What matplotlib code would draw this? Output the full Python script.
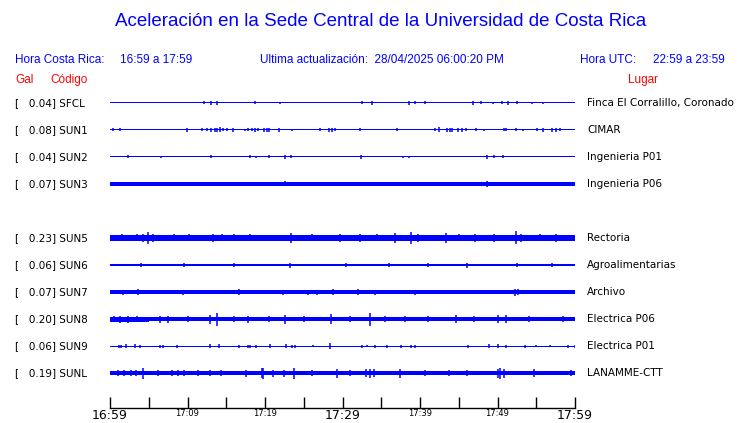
import matplotlib
matplotlib.use("Agg")
import matplotlib.pyplot as plt
import matplotlib.transforms as mtransforms
import numpy as np

# estaciones (SUN4 sin datos, deja el hueco)
codes = ["SFCL", "SUN1", "SUN2", "SUN3", "SUN4", "SUN5", "SUN6", "SUN7", "SUN8", "SUN9", "SUNL"]
gal = [0.04, 0.08, 0.04, 0.07, None, 0.23, 0.06, 0.07, 0.20, 0.06, 0.19]
places = ["Finca El Corralillo, Coronado", "CIMAR", "Ingenieria P01", "Ingenieria P06", None,
          "Rectoria", "Agroalimentarias", "Archivo", "Electrica P06", "Electrica P01", "LANAMME-CTT"]

# ancho medio de la traza (px) en bloques de 5 minutos
base = {
    "SFCL": [0.5, 0.5, 0.5, 0.5, 0.5, 0.5, 0.5, 0.5, 0.5, 0.5, 0.5, 0.5],
    "SUN1": [0.5, 0.5, 0.5, 0.5, 0.5, 0.5, 0.5, 0.5, 0.5, 0.5, 0.5, 0.5],
    "SUN2": [0.5, 0.5, 0.5, 0.5, 0.5, 0.5, 0.5, 0.5, 0.5, 0.5, 0.5, 0.5],
    "SUN3": [1.7, 1.7, 1.6, 1.6, 1.6, 1.6, 1.6, 1.6, 1.6, 1.6, 1.6, 1.6],
    "SUN5": [2.8, 2.9, 2.8, 2.7, 2.8, 2.8, 2.8, 2.9, 2.8, 2.8, 2.9, 2.8],
    "SUN6": [1.5, 1.4, 1.3, 1.4, 1.3, 1.4, 1.3, 1.4, 1.3, 1.4, 1.4, 1.4],
    "SUN7": [1.8, 1.8, 1.8, 1.8, 1.8, 1.8, 1.8, 1.8, 1.8, 1.8, 1.8, 1.8],
    "SUN8": [2.5, 2.3, 2.2, 2.2, 2.3, 2.2, 2.2, 2.2, 2.3, 2.3, 2.3, 2.3],
    "SUN9": [0.5, 0.5, 0.5, 0.5, 0.5, 0.5, 0.5, 0.5, 0.5, 0.5, 0.5, 0.5],
    "SUNL": [2.0, 2.0, 2.0, 2.0, 2.0, 2.0, 2.0, 2.0, 2.0, 2.0, 2.0, 2.0],
}

# picos (minuto desde 16:59, ancho medio en px)
spikes = {
    "SFCL": [(12.1, 1.5), (13.0, 2), (13.8, 2), (18.7, 1.5), (21.9, 1), (32.5, 1.5), (33.8, 2),
             (38.6, 2), (39.4, 1.5), (40.6, 1.5), (46.8, 2), (47.9, 1.5), (49.4, 1), (50.6, 1.5),
             (51.4, 2), (52.5, 1.5), (54.5, 1), (55.9, 1)],
    "SUN1": [(0.4, 1.5), (1.3, 1.5), (9.9, 2), (11.9, 1.5), (12.5, 1.5), (13.0, 2), (13.5, 2),
             (13.8, 2), (14.2, 2.5), (14.6, 1.5), (15.1, 1.5), (15.9, 2), (17.4, 1), (17.8, 1.5),
             (18.3, 1.5), (18.7, 2), (19.1, 1.5), (19.9, 2), (20.3, 2), (20.5, 2), (21.8, 2),
             (23.5, 1), (27.1, 1.5), (28.3, 2), (28.6, 2), (29.0, 1.5), (32.3, 1.5), (37.0, 1.5),
             (41.9, 1.5), (42.5, 2.5), (43.5, 2), (43.9, 2), (44.1, 2), (44.9, 2), (45.4, 2),
             (45.9, 1.5), (47.2, 1.5), (48.3, 1), (50.8, 1.5), (51.1, 1.5), (52.4, 1.5),
             (53.3, 1), (55.1, 1.5), (55.9, 2), (57.0, 2), (57.5, 2), (58.1, 1.5)],
    "SUN2": [(2.3, 1.5), (6.6, 1), (13.0, 1.5), (18.1, 1.5), (18.8, 1), (20.5, 1.5), (22.6, 2),
             (23.4, 1.5), (32.4, 2), (37.8, 1), (38.6, 1), (48.6, 2), (49.5, 1.5), (50.7, 1.5)],
    "SUN3": [(13.0, 2.3), (20.5, 2.3), (22.6, 2.5), (23.4, 2.3), (32.5, 2.3), (37.8, 2.3),
             (48.6, 3), (50.3, 2.3)],
    "SUN5": [(1.5, 3.5), (3.5, 3.5), (4.3, 4), (4.9, 6), (5.5, 4), (8.3, 3.5), (10.2, 3.5),
             (13.3, 4), (14.5, 3.5), (16.0, 3.5), (18.0, 3.5), (23.3, 5), (26.0, 3.5),
             (29.7, 4), (32.3, 4), (34.5, 3.5), (36.8, 4.5), (38.9, 6), (39.8, 4), (43.4, 4.5),
             (45.0, 3.5), (47.1, 4), (49.5, 4), (52.4, 6.5), (53.0, 4), (55.5, 3.5), (57.5, 4)],
    "SUN6": [(4.0, 2), (9.5, 1.8), (16.0, 2), (23.2, 2.5), (30.5, 2), (36.0, 2), (41.0, 2),
             (46.0, 2.5), (52.5, 2), (57.0, 2)],
    "SUN7": [(1.7, 2.5), (3.6, 3), (9.4, 2.5), (16.6, 3), (22.3, 2.5), (25.6, 2.5), (26.7, 2.5),
             (28.8, 3), (32.0, 3), (34.2, 2.5), (39.4, 2.5), (52.2, 3.5), (52.6, 3)],
    "SUN8": [(0.5, 3), (1.3, 3.5), (2.3, 3.5), (3.5, 3), (6.5, 3.5), (7.5, 3.5), (10.0, 3),
             (12.9, 4.5), (13.8, 6.5), (16.0, 3), (17.8, 3.5), (20.5, 3), (22.6, 4.5),
             (25.0, 3), (28.5, 5), (31.0, 3), (33.5, 6.5), (35.5, 3), (38.0, 3), (41.0, 3),
             (44.6, 4), (47.0, 3), (50.0, 4), (51.1, 4), (54.0, 3), (58.5, 3)],
    "SUN9": [(1.1, 1.5), (1.4, 1.5), (2.1, 2), (3.2, 2), (3.9, 1.5), (6.5, 1.5), (6.9, 1.5),
             (8.6, 1.5), (12.9, 2), (14.1, 2), (16.6, 1.5), (17.8, 1.5), (18.1, 1.5),
             (18.9, 1.5), (20.6, 2), (22.7, 2), (23.5, 1.5), (23.9, 1.5), (26.2, 1),
             (28.4, 3), (32.5, 1.5), (33.1, 1), (34.2, 1.5), (35.7, 1.5), (37.6, 1.5),
             (38.9, 1.5), (39.4, 1.5), (46.2, 1.5), (48.9, 2), (50.0, 2), (51.1, 1.5),
             (53.5, 1.5), (55.0, 1), (56.8, 1), (59.1, 1.5), (60.0, 1.5)],
    "SUNL": [(1.0, 3), (1.8, 3), (2.7, 3), (3.4, 3), (4.2, 5.5), (6.2, 3), (8.0, 3), (8.8, 3),
             (9.5, 3), (11.3, 3), (12.9, 3), (14.3, 3), (17.5, 3.5), (19.6, 5), (19.8, 5.5),
             (21.0, 3.5), (22.5, 3.5), (23.7, 5.5), (26.0, 3), (29.3, 4.5), (31.0, 3),
             (33.0, 4), (33.5, 4.5), (34.0, 4), (37.4, 4.5), (40.6, 3), (43.7, 3), (46.0, 3),
             (50.0, 4.5), (50.3, 5.5), (50.8, 4.5), (54.7, 4), (59.5, 3)],
}

tick_minutes = [0, 5, 10, 15, 20, 25, 30, 35, 40, 45, 50, 55, 60]
tick_labels = ["16:59", "", "17:09", "", "17:19", "", "17:29", "", "17:39", "", "17:49", "", "17:59"]
big_labels = ["16:59", "17:29", "17:59"]

blue = "#0000ff"
red = "#ff0000"
W, H = 740, 423
row_px = 27

fig = plt.figure(figsize=(W / 100, H / 100), dpi=100)
ax = fig.add_axes([110 / W, 1 - 408 / H, 465 / W, (408 - 90) / H])
ax.set_xlim(0, 60)
ax.set_ylim((408 - 103) / row_px, -(103 - 90) / row_px)

edges = np.arange(0, 61, 5)
for row, code in enumerate(codes):
    if code not in base:
        continue
    half = np.array(base[code] + base[code][-1:]) / row_px
    ax.fill_between(edges, row - half, row + half, step="post", color=blue, lw=0)
    xs = [m for m, h in spikes[code]]
    hs = np.array([h for m, h in spikes[code]]) / row_px
    ax.vlines(xs, row - hs, row + hs, color=blue, lw=1.1)

# etiquetas de estaciones
lab_tr = mtransforms.blended_transform_factory(fig.transFigure, ax.transData)
for row, code in enumerate(codes):
    if gal[row] is None:
        continue
    ax.text(15 / W, row, "[   %.2f] %s" % (gal[row], code), transform=lab_tr,
            fontsize=7.5, family="DejaVu Sans", va="center", ha="left")
    ax.text(587 / W, row, places[row], transform=lab_tr,
            fontsize=7.5, family="DejaVu Sans", va="center", ha="left")

# eje de tiempo
for s in ["top", "left", "right"]:
    ax.spines[s].set_visible(False)
ax.spines["bottom"].set_linewidth(1)
ax.set_yticks([])
ax.set_xticks(tick_minutes)
ax.set_xticklabels(tick_labels, family="DejaVu Sans")
ax.tick_params(axis="x", direction="in", length=8, width=1, pad=1)
for lab in ax.get_xticklabels():
    lab.set_fontsize(9 if lab.get_text() in big_labels else 6)

# encabezado
fig.text(381 / W, 1 - 22 / H, "Aceleración en la Sede Central de la Universidad de Costa Rica",
         ha="center", va="center", fontsize=13.5, color=blue, family="Liberation Sans")
hdr = dict(fontsize=8.5, color=blue, family="Liberation Sans", va="center")
fig.text(15 / W, 1 - 60 / H, "Hora Costa Rica:", **hdr)
fig.text(120 / W, 1 - 60 / H, "16:59 a 17:59", **hdr)
fig.text(260 / W, 1 - 60 / H, "Ultima actualización:  28/04/2025 06:00:20 PM", **hdr)
fig.text(580 / W, 1 - 60 / H, "Hora UTC:", **hdr)
fig.text(725 / W, 1 - 60 / H, "22:59 a 23:59", ha="right", **hdr)
red_hdr = dict(fontsize=8.5, color=red, family="Liberation Sans", va="center")
fig.text(15 / W, 1 - 80 / H, "Gal", **red_hdr)
fig.text(50 / W, 1 - 80 / H, "Código", **red_hdr)
fig.text(628 / W, 1 - 80 / H, "Lugar", **red_hdr)

fig.savefig("out.png", dpi=100)
